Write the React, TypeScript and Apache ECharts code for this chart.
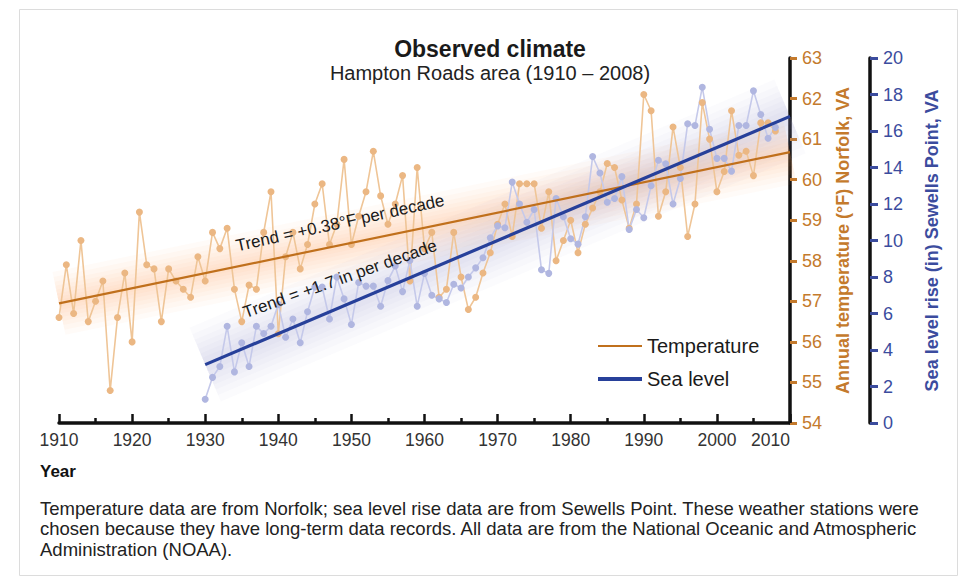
import React, { useEffect, useRef } from "react";
import * as echarts from "echarts";

// ---- Data ----
const tempStartYear = 1910;
const temperatureF = [
  56.6, 57.9, 56.7, 58.5, 56.5, 57.0, 57.5, 54.8, 56.6, 57.7,
  56.0, 59.2, 57.9, 57.8, 56.5, 57.8, 57.5, 57.3, 57.1, 58.1,
  57.5, 58.7, 58.3, 58.8, 57.3, 56.5, 57.4, 57.3, 58.7, 59.7,
  56.2, 58.1, 58.7, 57.8, 58.4, 59.4, 59.9, 58.4, 58.9, 60.5,
  58.4, 59.1, 59.7, 60.7, 59.6, 58.9, 59.4, 60.1, 57.5, 60.3,
  58.3, 58.7, 57.1, 57.3, 58.7, 57.6, 56.8, 57.1, 57.7, 58.2,
  58.9, 59.4, 58.6, 59.9, 59.9, 59.9, 58.8, 59.7, 58.0, 58.5,
  59.0, 58.2, 58.9, 59.3, 59.7, 60.4, 60.3, 59.5, 58.8, 59.4,
  62.1, 61.7, 59.1, 59.7, 61.3, 60.3, 58.6, 59.4, 61.9, 61.0,
  59.7, 60.2, 61.7, 60.6, 60.7, 60.1, 61.4, 61.4, 61.2,
];
const seaStartYear = 1930;
const seaLevelIn = [
  1.3, 2.5, 3.1, 5.3, 2.8, 4.4, 3.1, 5.3, 4.9, 5.3,
  6.5, 4.7, 5.7, 4.4, 6.1, 7.45, 7.45, 5.7, 8.0, 6.8,
  5.4, 7.7, 7.5, 7.5, 6.4, 7.8, 8.6, 7.2, 8.9, 6.4,
  8.2, 7.0, 6.8, 6.6, 7.6, 7.4, 8.0, 8.5, 9.05, 10.15,
  10.8, 10.7, 13.2, 12.0, 11.0, 11.7, 8.4, 8.2, 12.3, 11.3,
  10.1, 9.8, 11.3, 14.6, 13.7, 12.1, 12.3, 13.5, 10.6, 11.7,
  11.25, 13.0, 14.4, 14.2, 12.0, 13.4, 16.4, 16.3, 18.4, 16.1,
  14.5, 14.5, 13.8, 16.3, 16.3, 18.2, 16.9, 15.6, 16.2,
];
const tempTrendYears = [1910, 2010];
const tempTrendValues = [56.95, 60.68];
const seaTrendYears = [1930, 2010];
const seaTrendValues = [3.2, 16.8];

const titleText = "Observed climate";
const subtitleText = "Hampton Roads area (1910 \u2013 2008)";
const tempAxisName = "Annual temperature (\u00B0F) Norfolk, VA";
const seaAxisName = "Sea level rise (in) Sewells Point, VA";
const tempTrendLabel = "Trend = +0.38\u00B0F per decade";
const seaTrendLabel = "Trend = +1.7 in per decade";
const legendNames = ["Temperature", "Sea level"];
const footnoteLines = [
  "Temperature data are from Norfolk; sea level rise data are from Sewells Point. These weather stations were",
  "chosen because they have long-term data records. All data are from the National Oceanic and Atmospheric",
  "Administration (NOAA).",
];

const FONT = "'Liberation Sans', Arial, sans-serif";
const ORANGE_TEXT = "#c47a2c";
const ORANGE_TREND = "#c0701c";
const BLUE_TEXT = "#3b4c9e";
const BLUE_TREND = "#27409a";

export default function App() {
  const ref = useRef<HTMLDivElement>(null);

  useEffect(() => {
    if (!ref.current) return;
    const chart = echarts.init(ref.current, null, { renderer: "svg" });

    const tempData = temperatureF.map((v, i) => [tempStartYear + i, v]);
    const seaData = seaLevelIn.map((v, i) => [seaStartYear + i, v]);
    const tempTrend = tempTrendYears.map((y, i) => [y, tempTrendValues[i]]);
    const seaTrend = seaTrendYears.map((y, i) => [y, seaTrendValues[i]]);

    const glowLayers = (key: string, data: number[][], yIdx: number, color: string, widths: number[], opacity: number) =>
      widths.map((w, k) => ({
        name: key + k,
        type: "line",
        yAxisIndex: yIdx,
        data,
        silent: true,
        symbol: "none",
        z: 1,
        lineStyle: { color, width: w, opacity, cap: "butt" },
      }));

    const option: any = {
      animation: false,
      backgroundColor: "#ffffff",
      textStyle: { fontFamily: FONT },
      title: {
        text: titleText,
        subtext: subtitleText,
        left: 485,
        textAlign: "center",
        top: 32,
        itemGap: 3,
        textStyle: { fontFamily: FONT, fontSize: 23, fontWeight: "bold", color: "#1a1a1a" },
        subtextStyle: { fontFamily: FONT, fontSize: 20, color: "#222222" },
      },
      legend: [
        {
          data: [{ name: legendNames[0], icon: "rect", itemStyle: { color: ORANGE_TREND } }],
          left: 593,
          top: 331,
          itemWidth: 44,
          itemHeight: 2,
          selectedMode: false,
          textStyle: { fontFamily: FONT, fontSize: 20, color: "#1a1a1a" },
        },
        {
          data: [{ name: legendNames[1], icon: "rect", itemStyle: { color: BLUE_TREND } }],
          left: 593,
          top: 364,
          itemWidth: 44,
          itemHeight: 4,
          selectedMode: false,
          textStyle: { fontFamily: FONT, fontSize: 20, color: "#1a1a1a" },
        },
      ],
      grid: { left: 59, right: 178, top: 58, bottom: 159, containLabel: false },
      xAxis: {
        type: "value",
        min: 1910,
        max: 2010,
        interval: 10,
        axisLine: { show: true, lineStyle: { color: "#111", width: 3.5 } },
        axisTick: { show: true, inside: true, length: 9, lineStyle: { color: "#111", width: 2.5 } },
        minorTick: { show: true, splitNumber: 2, length: 5, lineStyle: { color: "#111", width: 2.5 } },
        splitLine: { show: false },
        axisLabel: {
          color: "#333",
          fontSize: 17.5,
          fontFamily: FONT,
          margin: 8,
          alignMaxLabel: "right",
          formatter: (v: number) => String(v),
        },
      },
      yAxis: [
        {
          type: "value",
          position: "right",
          min: 54,
          max: 63,
          interval: 1,
          axisLine: { show: true, onZero: false, lineStyle: { color: "#111", width: 3.5 } },
          axisTick: { show: true, length: 7, lineStyle: { color: ORANGE_TEXT, width: 3 } },
          splitLine: { show: false },
          axisLabel: { color: ORANGE_TEXT, fontSize: 18, fontFamily: FONT, margin: 12 },
          name: tempAxisName,
          nameLocation: "middle",
          nameRotate: 90,
          nameGap: 44,
          nameTextStyle: { color: ORANGE_TEXT, fontSize: 18, fontWeight: "bold", fontFamily: FONT },
        },
        {
          type: "value",
          position: "right",
          offset: 80,
          min: 0,
          max: 20,
          interval: 2,
          axisLine: { show: true, onZero: false, lineStyle: { color: "#111", width: 3.5 } },
          axisTick: { show: true, length: 8, lineStyle: { color: BLUE_TEXT, width: 3 } },
          splitLine: { show: false },
          axisLabel: { color: BLUE_TEXT, fontSize: 18, fontFamily: FONT, margin: 13 },
          name: seaAxisName,
          nameLocation: "middle",
          nameRotate: 90,
          nameGap: 53,
          nameTextStyle: { color: BLUE_TEXT, fontSize: 18, fontWeight: "bold", fontFamily: FONT },
        },
      ],
      series: [
        ...glowLayers("tglow", tempTrend, 0, "#f7a458", [64, 54, 44, 36, 28, 20, 13, 7], 0.045),
        ...glowLayers("sglow", seaTrend, 1, "#8f9cd8", [80, 66, 54, 44, 34, 24, 15], 0.04),
        {
          name: "Temperature data",
          type: "line",
          yAxisIndex: 0,
          data: tempData,
          symbol: "circle",
          symbolSize: 7,
          z: 3,
          itemStyle: { color: "#ebb783" },
          lineStyle: { color: "#efc597", width: 1.6 },
        },
        {
          name: "Sea level data",
          type: "line",
          yAxisIndex: 1,
          data: seaData,
          symbol: "circle",
          symbolSize: 7,
          z: 3,
          itemStyle: { color: "#b0b6e0" },
          lineStyle: { color: "#c5c9ea", width: 1.6 },
        },
        {
          name: legendNames[0],
          type: "line",
          yAxisIndex: 0,
          data: tempTrend,
          symbol: "none",
          z: 4,
          lineStyle: { color: ORANGE_TREND, width: 2.2 },
        },
        {
          name: legendNames[1],
          type: "line",
          yAxisIndex: 1,
          data: seaTrend,
          symbol: "none",
          z: 4,
          lineStyle: { color: BLUE_TREND, width: 3.2 },
        },
      ],
      graphic: [
        {
          type: "rect",
          silent: true,
          shape: { x: 19.5, y: 9.5, width: 938, height: 566 },
          style: { fill: "none", stroke: "#dcdcdc", lineWidth: 1 },
          z: -10,
        },
        {
          type: "text",
          x: 340,
          y: 223,
          rotation: (12.5 * Math.PI) / 180,
          z: 50,
          style: {
            text: tempTrendLabel,
            fontFamily: FONT,
            fontSize: 17,
            fill: "#1a1a1a",
            align: "center",
            verticalAlign: "middle",
          },
        },
        {
          type: "text",
          x: 340,
          y: 279,
          rotation: (19.5 * Math.PI) / 180,
          z: 50,
          style: {
            text: seaTrendLabel,
            fontFamily: FONT,
            fontSize: 17,
            fill: "#1a1a1a",
            align: "center",
            verticalAlign: "middle",
          },
        },
        {
          type: "text",
          x: 40,
          y: 471,
          style: {
            text: "Year",
            fontFamily: FONT,
            fontSize: 17,
            fontWeight: "bold",
            fill: "#111",
            verticalAlign: "middle",
          },
        },
        {
          type: "text",
          x: 40,
          y: 498,
          style: {
            text: footnoteLines.join("\n"),
            fontFamily: FONT,
            fontSize: 18.5,
            lineHeight: 20.5,
            fill: "#222",
          },
        },
      ],
    };

    chart.setOption(option);
    return () => chart.dispose();
  }, []);

  return (
    <div
      ref={ref}
      style={{ position: "fixed", left: 0, top: 0, width: 968, height: 582, background: "#fff" }}
    />
  );
}
